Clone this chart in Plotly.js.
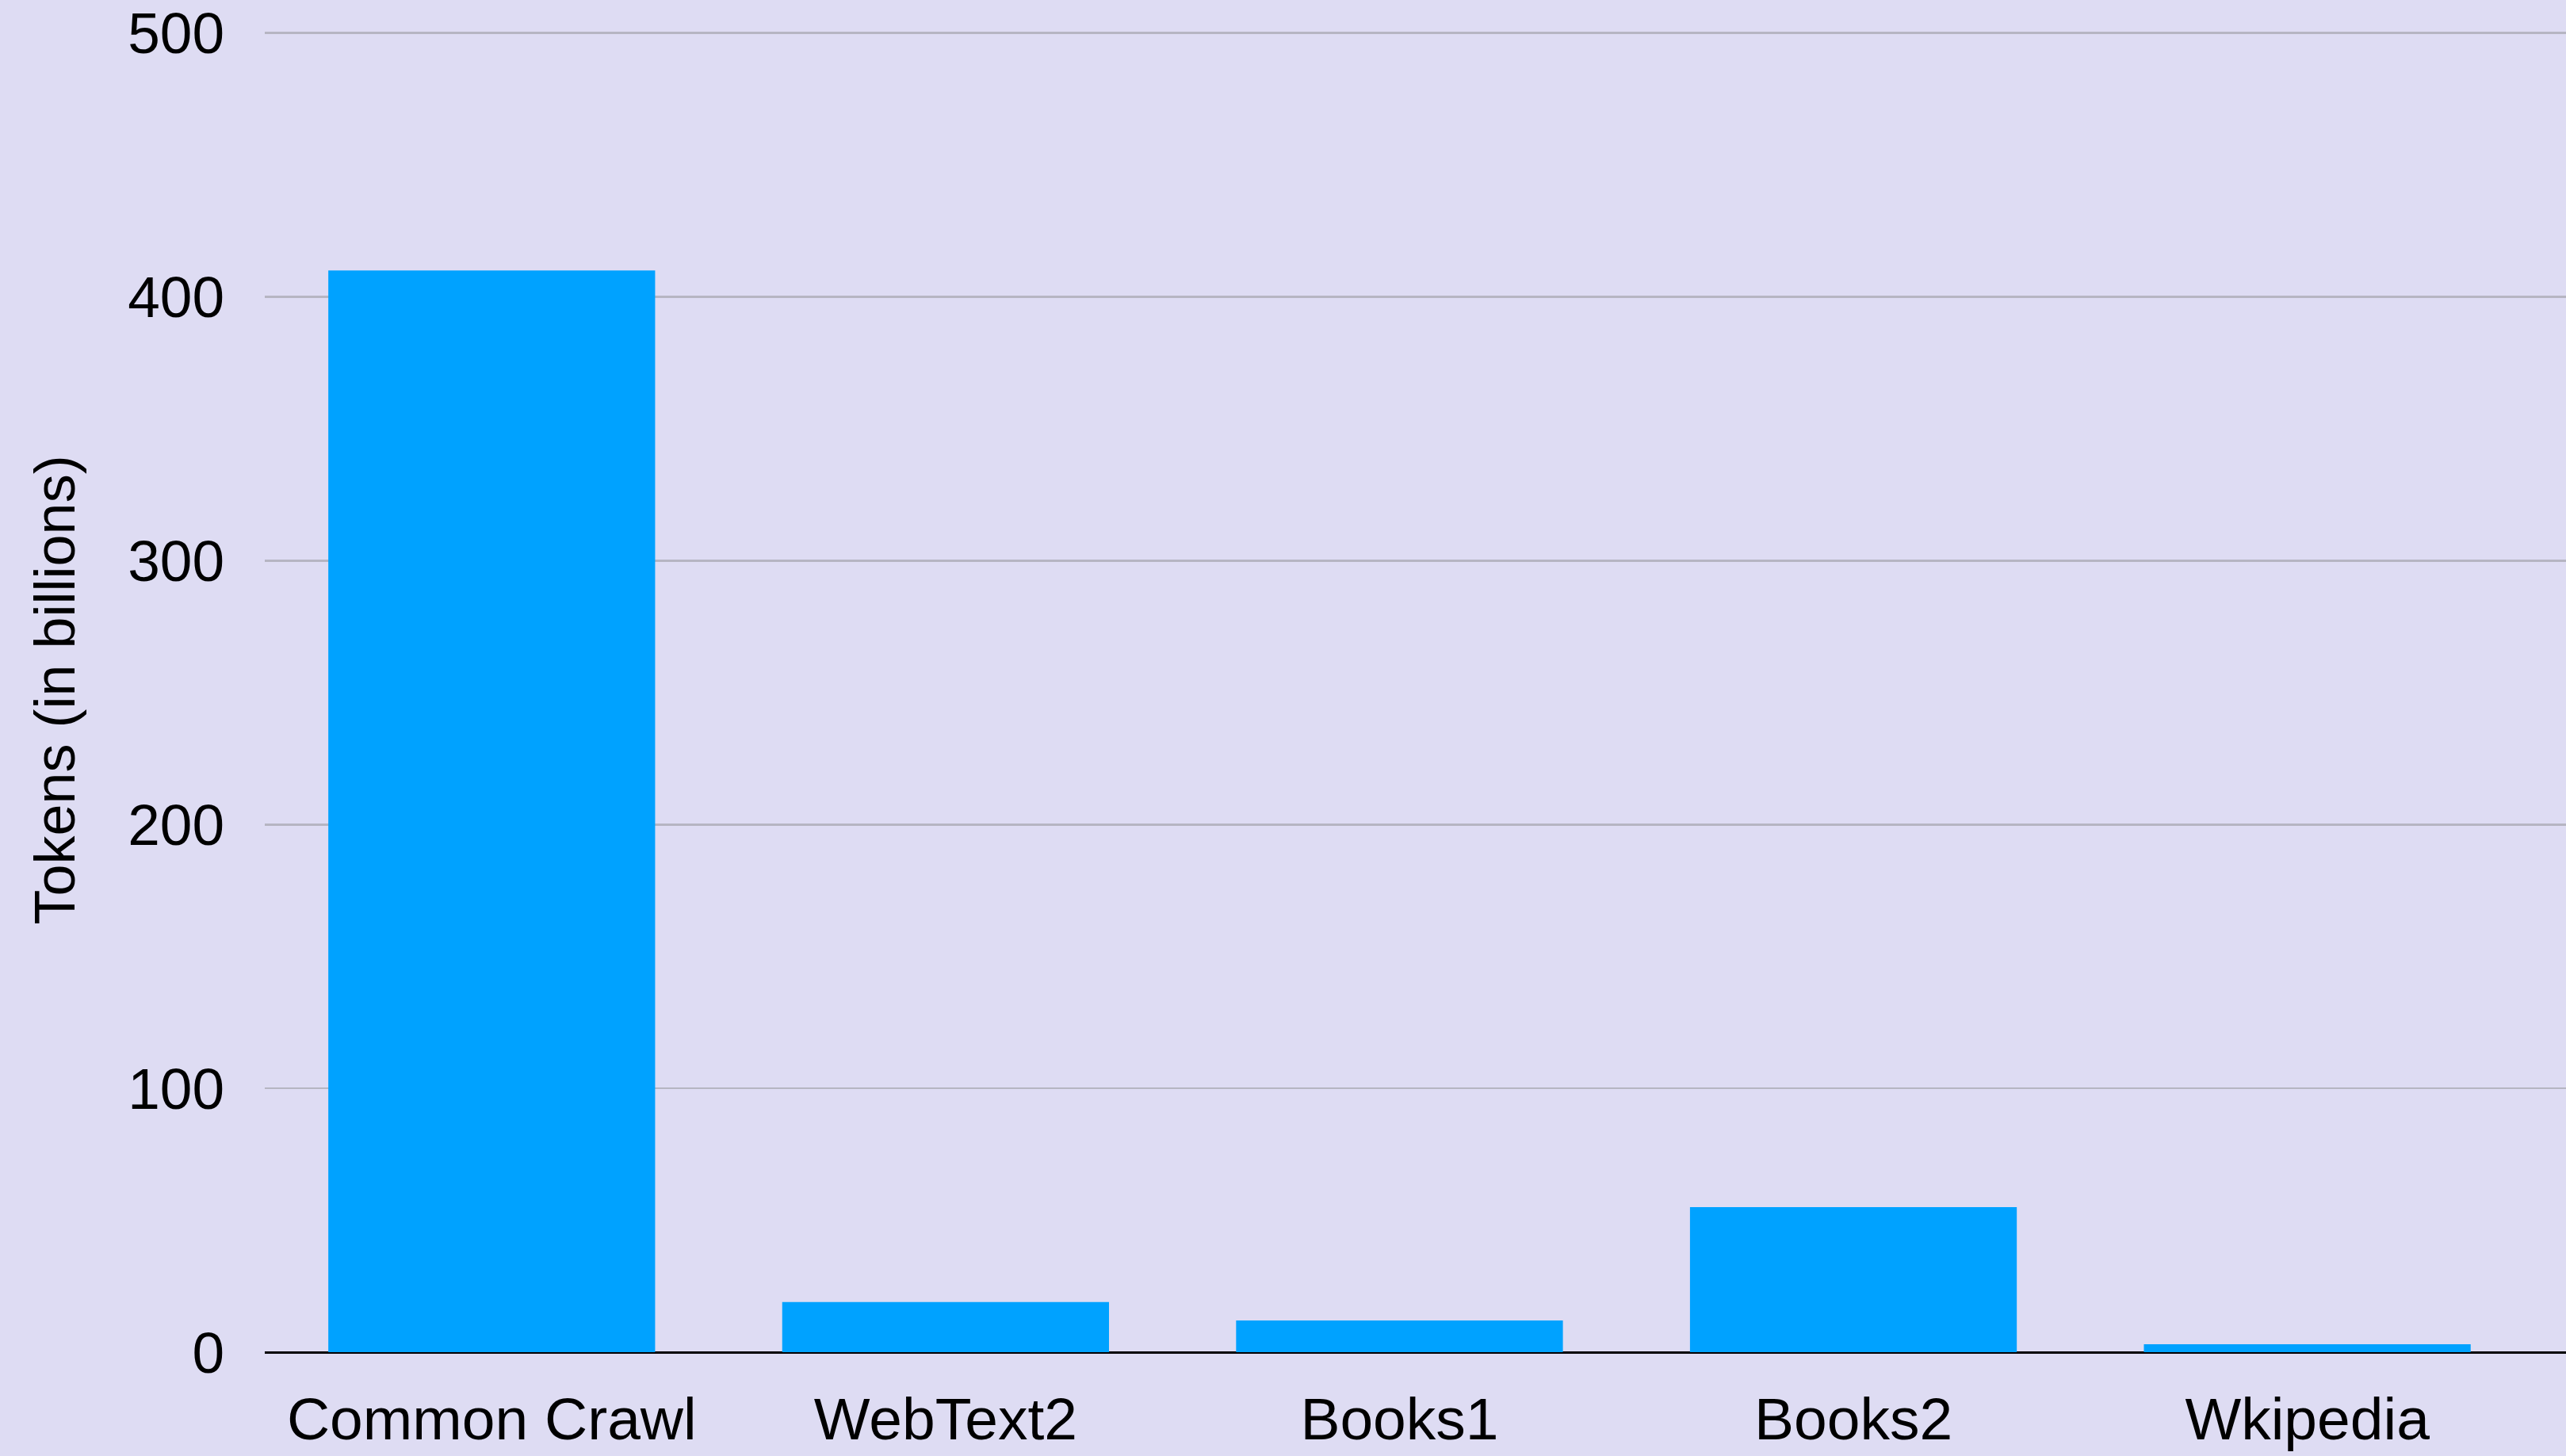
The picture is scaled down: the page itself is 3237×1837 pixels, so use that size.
<!DOCTYPE html>
<html>
<head>
<meta charset="utf-8">
<script src="https://cdn.plot.ly/plotly-3.0.1.min.js"></script>
<style>
html,body{margin:0;padding:0;background:#dedcf3;}
#chart{width:3237px;height:1837px;}
</style>
</head>
<body>
<div id="chart"></div>
<script>
const categories = ["Common Crawl", "WebText2", "Books1", "Books2", "Wkipedia"];
const tokens = [410, 19, 12, 55, 3];
const yTicks = [0, 100, 200, 300, 400, 500];

const font = "'Liberation Sans', Arial, Helvetica, sans-serif";

Plotly.newPlot("chart", [{
  type: "bar",
  x: categories,
  y: tokens,
  marker: {color: "#00a2ff", line: {width: 0}},
  hoverinfo: "x+y"
}], {
  width: 3237,
  height: 1837,
  paper_bgcolor: "#dedcf3",
  plot_bgcolor: "#dedcf3",
  margin: {l: 334, r: 0, t: 35, b: 131},
  bargap: 0.28,
  showlegend: false,
  font: {family: font, color: "#000000"},
  xaxis: {
    type: "category",
    range: [-0.5, 4.57],
    showgrid: false,
    zeroline: false,
    showline: false,
    ticks: "",
    ticklabelstandoff: 34,
    tickfont: {family: font, size: 75, color: "#000"}
  },
  yaxis: {
    range: [0, 502],
    tickvals: yTicks,
    ticktext: yTicks.map(String),
    showgrid: true,
    gridcolor: "#b6b5c2",
    gridwidth: 2.5,
    zeroline: true,
    zerolinecolor: "#000000",
    zerolinewidth: 3,
    showline: false,
    ticks: "",
    ticklabelstandoff: 50,
    tickfont: {family: font, size: 73, color: "#000"},
    title: {text: "Tokens (in billions)", standoff: 42, font: {family: font, size: 72, color: "#000"}}
  }
}, {displayModeBar: false, staticPlot: true});
</script>
</body>
</html>
